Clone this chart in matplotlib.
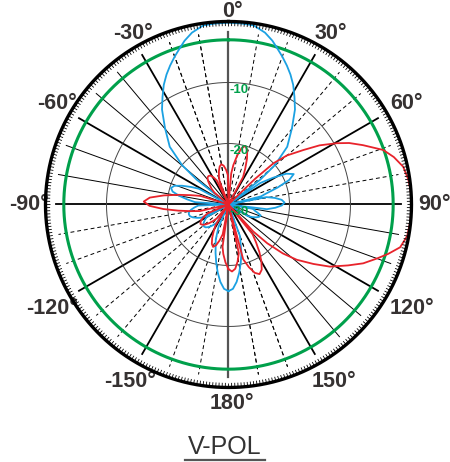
import numpy as np
import matplotlib.pyplot as plt
from matplotlib.lines import Line2D

# pattern data (angle in deg, clockwise from top; level in dB)
blue_ang = [-180, -177, -174, -171, -168, -165, -160, -156, -152,
            -147, -144, -141, -138, -135, -132, -129, -126, -123, -120, -118,
            -116, -113, -110, -107, -104, -101, -98, -95, -92, -89,
            -86, -83, -80, -77, -74, -71, -68, -65, -62, -57,
            -54, -52, -49.7, -45.5, -39.7, -35, -31.5, -28.4, -25.5, -22.8, -20, -17.4, -15, -12, -8, -4, 0,
            4, 8, 12, 15, 17.4, 20, 22.8, 25.5, 28.4, 31.5, 35, 39.7, 45.5, 49.7, 52, 54.5,
            56, 59, 62, 65, 68, 71, 74, 76, 77.5,
            79, 82, 85, 88, 91, 94, 97, 98.5,
            100, 103, 106, 109, 112, 115, 118, 121, 123,
            157, 160, 165, 168, 171, 174, 177, 180]
blue_db = [-15.8, -16.15, -17.24, -18.7, -20.3, -21.8, -23.9, -26, -30,
           -26.4, -25.9, -25.4, -25, -24.7, -24.6, -24.7, -25, -25.4, -25.9, -30,
           -25.05, -24.4, -23.8, -23.4, -23.3, -23.4, -23.8, -24.4, -25.05, -30,
           -24.5, -23.2, -21.8, -20.6, -20.2, -20.6, -21.8, -23.2, -24.5, -30,
           -30, -23.4, -20, -16.5, -13.7, -11, -9.3, -7.7, -6.4, -5.3, -4.2, -3.2, -2.2, -1.2, -0.35, -0.25, -0.2,
           -0.25, -0.35, -1.2, -2.2, -3.2, -4.2, -5.3, -6.4, -7.7, -9.3, -11, -13.7, -16.5, -20, -23.4, -30,
           -23.7, -21.5, -19.25, -18.2, -19.25, -21.5, -23.7, -24.5, -30,
           -23.66, -22.3, -21.25, -20.8, -21.25, -22.3, -23.66, -30,
           -25.9, -25.6, -25.0, -24.4, -24.6, -25, -25.6, -26.3, -30,
           -30, -24.5, -21.8, -20.3, -18.7, -17.24, -16.15, -15.8]

red_ang = [-180, -177, -174, -172, -170.5, -169, -166, -163, -160, -157, -154, -151, -148, -143,
           -140, -137, -134, -131, -128, -125, -122, -119, -116, -113, -108,
           -103, -100, -97, -94, -91, -88, -85, -82, -79, -76, -73, -68,
           -50, -47, -44, -41, -38, -35, -32, -29, -26, -23,
           -21, -19, -16, -13, -10, -7, -4, -1, 2,
           5, 7, 10, 13, 16, 19, 22, 25, 28, 30,
           44, 46, 47.5, 50, 54, 57, 60.5, 63, 66.2, 70.6, 74, 77.8, 82, 86, 90,
           95, 100, 104, 107.2, 110, 113.6, 117, 121.5, 125, 129, 132, 135, 137.5, 139,
           141, 144, 147, 150, 153, 156, 159, 162, 165, 166.5,
           168, 171, 174, 177, 180]
red_db = [-19.4, -20.5, -21.85, -23, -30, -25, -23.9, -23, -22.6, -23, -23.9, -25, -26, -30,
          -27, -26.3, -25.6, -25.0, -24.6, -24.4, -24.6, -25, -25.6, -26.3, -30,
          -25.2, -23.7, -21.7, -19.3, -17.05, -16.1, -17.05, -19.3, -21.7, -23.7, -25.2, -30,
          -27, -26.2, -25.6, -24.9, -24.4, -24.3, -24.4, -24.9, -25.6, -30,
          -25.9, -25.2, -24.3, -23.6, -23.3, -23.6, -24.3, -25.2, -30,
          -24.9, -23.5, -21.9, -20.56, -20, -20.56, -21.9, -23.5, -24.9, -30,
          -30, -24, -20, -17.5, -14.8, -12.2, -9.6, -7.8, -5.9, -3.1, -1.8, -0.7, -0.25, -0.05, 0,
          -0.05, -0.25, -1.0, -2.6, -4.1, -5.9, -8, -10.5, -13, -15.6, -18, -21, -24, -30,
          -23.7, -22.3, -20.7, -19.2, -18, -17.5, -18, -19.2, -20.7, -30,
          -21.85, -20.5, -19.4, -19, -19.4]

label_ang = [0, 30, 60, 90, 120, 150, 180, -150, -120, -90, -60, -30]
ring_db = [-10, -20, -30]

BLUE = '#1ba1e2'
RED = '#e8232b'
GREEN = '#00a04b'
TXT = '#363232'

fig = plt.figure(figsize=(4.5, 4.62), dpi=100)
ax = fig.add_axes([0.1011, 0.1613, 0.8133, 0.7922], projection='polar')
ax.set_theta_zero_location('N')
ax.set_theta_direction(-1)
ax.set_ylim(-30, 0)
ax.grid(False)
ax.set_xticks([])
ax.set_yticks([])
ax.spines['polar'].set_visible(False)

full = np.linspace(0, 2 * np.pi, 721)

# radial lines
for a in range(0, 180, 10):
    t = np.deg2rad(a)
    for tt in (t, t + np.pi):
        if a == 0:
            ax.plot([tt, tt], [-30, -1.7], color='#555555', lw=1.6, zorder=2)
        elif a % 30 == 0:
            ax.plot([tt, tt], [-30, -1.7], color='black', lw=1.3, zorder=2)
    if a % 30 == 0:
        continue
    dashed = a in (10, 20, 40, 50, 70, 80, 160, 170)
    for tt in (t, t + np.pi):
        ax.plot([tt, tt], [-30, -1.7], color='black', lw=0.7,
                ls=(0, (4, 3)) if dashed else '-', zorder=2)
for a in (-10, -20):
    t = np.deg2rad(a)
    for tt in (t, t + np.pi):
        ax.plot([tt, tt], [-30, -1.7], color='black', lw=0.7, ls=(0, (4, 3)), zorder=2)

# rings
for r in (-10, -20):
    ax.plot(full, np.full_like(full, r), color='#444444', lw=0.7, zorder=2)
ax.plot(full, np.full_like(full, -3), color=GREEN, lw=2.2, zorder=3)
ax.plot(full, np.zeros_like(full), color='black', lw=2.4, zorder=5, clip_on=False)
ax.vlines(np.deg2rad(np.arange(0, 360, 1)), -0.75, 0, color='black', lw=0.6, zorder=5)

# curves
for ang, db, c in ((blue_ang, blue_db, BLUE), (red_ang, red_db, RED)):
    ax.plot(np.deg2rad(ang), db, color=c, lw=1.3, zorder=4, clip_on=False)

# ring labels
for r in ring_db:
    ax.annotate(str(r), xy=(0, r), xytext=(1.0, -5.5), textcoords='offset points',
                ha='left', va='center', color=GREEN, fontsize=9.5, fontweight='bold',
                family='Liberation Sans', zorder=6)

# angle labels
for a in label_ang:
    t = np.deg2rad(a)
    rpx = 193 + 10 * abs(np.sin(t)) + (6 if np.cos(t) < -0.3 else 0)
    ax.annotate(f'{a}°', xy=(t, -30 + rpx / 6.1), xytext=(2.5, 0), textcoords='offset points',
                ha='center', va='center', color=TXT, fontsize=15.5, fontweight='bold',
                family='Liberation Sans', annotation_clip=False)

fig.text(0.5, 1 - 447 / 462, 'V-POL', ha='center', va='center', color='#333333',
         fontsize=18, family='Liberation Sans')
fig.add_artist(Line2D([185 / 450, 265 / 450], [1 - 459.5 / 462] * 2, color='#555555', lw=1.6))

fig.savefig('out.png', dpi=100, facecolor='white')
